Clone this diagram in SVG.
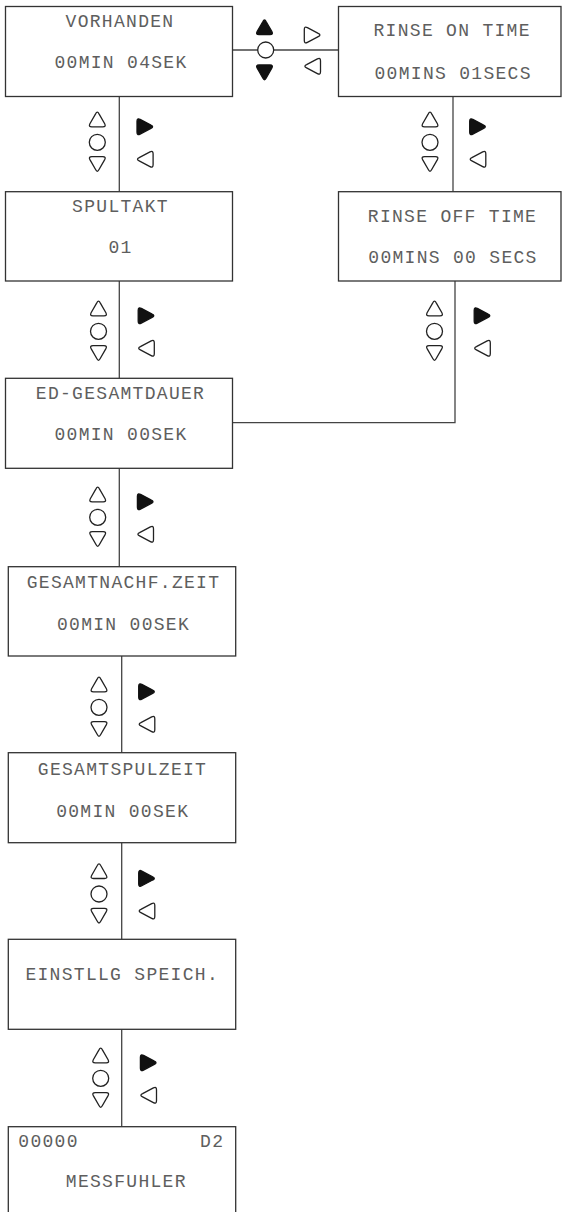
<svg xmlns="http://www.w3.org/2000/svg" xmlns:xlink="http://www.w3.org/1999/xlink" width="562" height="1212" viewBox="0 0 562 1212">
  <style>
    .box { fill: #fff; stroke: #333; stroke-width: 1.3; }
    .wire { fill: none; stroke: #444; stroke-width: 1.3; }
    .lbl { font-family: "Liberation Mono", "Courier New", monospace; font-size: 18px; letter-spacing: 1.3px; fill: #5e5e5e; }
    .mid { text-anchor: middle; }
    .end { text-anchor: end; }
    .key { fill: #fff; stroke: #222; stroke-width: 1.3; }
    .keyf { fill: #111; stroke: #111; stroke-width: 1.3; }
  </style>
  <defs>
    <!-- rounded key glyphs, centred on the origin -->
    <path id="triUp" d="M -1.72,-4.95 Q 0,-8.5 1.72,-4.95 L 7.4,4.95 Q 9,8 5.5,8 L -5.5,8 Q -9,8 -7.4,4.95 Z"/>
    <path id="triDown" d="M -1.72,4.95 Q 0,8.5 1.72,4.95 L 7.4,-4.95 Q 9,-8 5.5,-8 L -5.5,-8 Q -9,-8 -7.4,-4.95 Z"/>
    <path id="triRight" d="M -8.5,-5.5 Q -8.5,-9 -5.41,-7.36 L 5.41,-1.64 Q 8.8,0 5.41,1.64 L -5.41,7.36 Q -8.5,9 -8.5,5.5 Z"/>
    <path id="triLeft" d="M 8.5,-5.5 Q 8.5,-9 5.41,-7.36 L -5.41,-1.64 Q -8.8,0 -5.41,1.64 L 5.41,7.36 Q 8.5,9 8.5,5.5 Z"/>
    <!-- vertical key cluster: up / ok / down on the left, filled enter and back on the right -->
    <g id="keysV">
      <use xlink:href="#triUp" class="key" x="0" y="-23.5"/>
      <circle class="key" cx="0" cy="0" r="8"/>
      <use xlink:href="#triDown" class="key" x="0" y="22.3"/>
      <use xlink:href="#triRight" class="keyf" x="48.2" y="-15.6"/>
      <use xlink:href="#triLeft" class="key" x="47.3" y="17"/>
    </g>
  </defs>

  <!-- connectors -->
  <g id="connectors">
    <line class="wire" x1="232.3" y1="50" x2="338.5" y2="50"/>
    <line class="wire" x1="119.3" y1="96.7" x2="119.3" y2="191.7"/>
    <line class="wire" x1="453" y1="96.7" x2="453" y2="191.7"/>
    <line class="wire" x1="119.3" y1="281" x2="119.3" y2="378.3"/>
    <polyline class="wire" points="455,281 455,422.7 232.3,422.7"/>
    <line class="wire" x1="119.3" y1="468" x2="119.3" y2="566.7"/>
    <line class="wire" x1="121.7" y1="656" x2="121.7" y2="752.7"/>
    <line class="wire" x1="121.7" y1="842.7" x2="121.7" y2="939.3"/>
    <line class="wire" x1="121.7" y1="1029.3" x2="121.7" y2="1126.7"/>
  </g>

  <!-- navigation keys -->
  <g id="keys-top">
    <use xlink:href="#triUp" class="keyf" x="264.5" y="26.7"/>
    <circle class="key" cx="265.7" cy="50" r="8"/>
    <use xlink:href="#triDown" class="keyf" x="264.5" y="73"/>
    <use xlink:href="#triRight" class="key" x="312.8" y="35"/>
    <use xlink:href="#triLeft" class="key" x="312" y="66.3"/>
  </g>
  <g id="keys-1"><use xlink:href="#keysV" x="97.3" y="142.3"/></g>
  <g id="keys-2"><use xlink:href="#keysV" x="430" y="142.3"/></g>
  <g id="keys-3"><use xlink:href="#keysV" x="98.5" y="331.3"/></g>
  <g id="keys-4"><use xlink:href="#keysV" x="434.5" y="331.3"/></g>
  <g id="keys-5"><use xlink:href="#keysV" x="97.7" y="517.3"/></g>
  <g id="keys-6"><use xlink:href="#keysV" x="99" y="707.3"/></g>
  <g id="keys-7"><use xlink:href="#keysV" x="99" y="894"/></g>
  <g id="keys-8"><use xlink:href="#keysV" x="100.7" y="1078.3"/></g>

  <!-- menu screens -->
  <g id="vorhanden">
    <rect class="box" x="5.5" y="6.5" width="227" height="90"/>
    <text class="lbl mid" x="120" y="26.7">VORHANDEN</text>
    <text class="lbl mid" x="121" y="68.3">00MIN 04SEK</text>
  </g>
  <g id="rinse-on">
    <rect class="box" x="338.5" y="6.5" width="222.5" height="90"/>
    <text class="lbl" x="373.5" y="36">RINSE ON TIME</text>
    <text class="lbl" x="374.5" y="79.3">00MINS 01SECS</text>
  </g>
  <g id="spultakt">
    <rect class="box" x="5.5" y="191.7" width="227" height="89.3"/>
    <text class="lbl mid" x="120.5" y="211.7">SPULTAKT</text>
    <text class="lbl mid" x="120.5" y="253.3">01</text>
  </g>
  <g id="rinse-off">
    <rect class="box" x="338.5" y="191.7" width="222.5" height="89.3"/>
    <text class="lbl" x="367.8" y="221.7">RINSE OFF TIME</text>
    <text class="lbl" x="368.3" y="263.3">00MINS 00 SECS</text>
  </g>
  <g id="ed-gesamtdauer">
    <rect class="box" x="5.5" y="378.3" width="227" height="90"/>
    <text class="lbl mid" x="120.5" y="399">ED-GESAMTDAUER</text>
    <text class="lbl mid" x="121" y="440">00MIN 00SEK</text>
  </g>
  <g id="gesamtnachf">
    <rect class="box" x="8.3" y="566.7" width="227.4" height="89.3"/>
    <text class="lbl mid" x="123.5" y="588.3">GESAMTNACHF.ZEIT</text>
    <text class="lbl mid" x="123.5" y="630">00MIN 00SEK</text>
  </g>
  <g id="gesamtspulzeit">
    <rect class="box" x="8.3" y="752.7" width="227.4" height="90"/>
    <text class="lbl mid" x="122.5" y="775">GESAMTSPULZEIT</text>
    <text class="lbl mid" x="122.7" y="816.7">00MIN 00SEK</text>
  </g>
  <g id="einstllg">
    <rect class="box" x="8.3" y="939.3" width="227.4" height="90"/>
    <text class="lbl mid" x="122.2" y="980">EINSTLLG SPEICH.</text>
  </g>
  <g id="messfuhler">
    <rect class="box" x="8.3" y="1126.7" width="227.4" height="100"/>
    <text class="lbl" x="18.3" y="1147.3">00000</text>
    <text class="lbl end" x="224.3" y="1147.3">D2</text>
    <text class="lbl mid" x="126.3" y="1186.7">MESSFUHLER</text>
  </g>
</svg>
